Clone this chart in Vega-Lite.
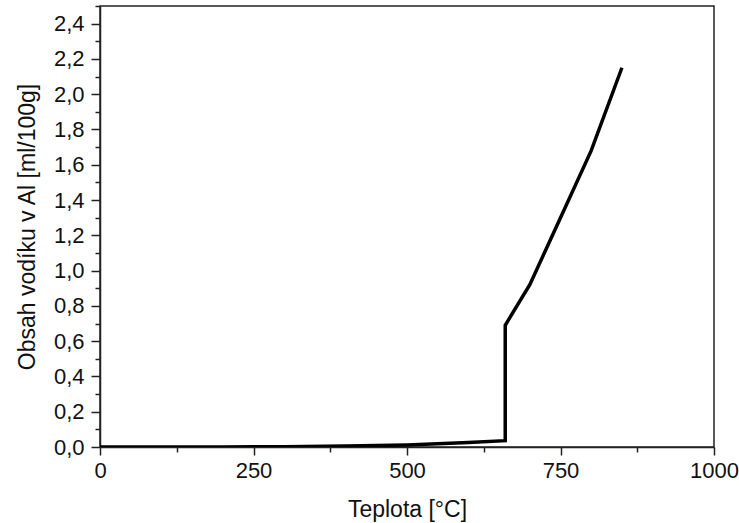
{
  "$schema": "https://vega.github.io/schema/vega-lite/v6.json",
  "width": 614,
  "height": 441,
  "autosize": "none",
  "padding": {"left": 100, "top": 6, "right": 25, "bottom": 76},
  "background": "white",
  "config": {
    "locale": {"number": {"decimal": ",", "thousands": "", "grouping": [3], "currency": ["", ""]}},
    "view": {"stroke": "#222", "strokeWidth": 1.5},
    "font": "Liberation Sans",
    "axis": {
      "labelFont": "Liberation Sans",
      "titleFont": "Liberation Sans",
      "labelFontSize": 22,
      "titleFontSize": 23,
      "titleFontWeight": "normal",
      "labelColor": "#111",
      "titleColor": "#111",
      "domainColor": "#222",
      "domainWidth": 1.5,
      "tickColor": "#222",
      "tickWidth": 1.5,
      "labelFlush": false,
      "labelOverlap": false,
      "grid": false
    }
  },
  "data": {
    "values": [
      {"T": 0, "H": 0.0},
      {"T": 200, "H": 0.0005},
      {"T": 300, "H": 0.002},
      {"T": 400, "H": 0.005},
      {"T": 500, "H": 0.012},
      {"T": 600, "H": 0.025},
      {"T": 660, "H": 0.036},
      {"T": 660, "H": 0.69},
      {"T": 700, "H": 0.92},
      {"T": 750, "H": 1.30},
      {"T": 800, "H": 1.68},
      {"T": 850, "H": 2.15}
    ]
  },
  "layer": [
    {
      "mark": {"type": "line", "color": "#000", "strokeWidth": 3.5, "strokeJoin": "miter", "clip": true},
      "encoding": {
        "x": {
          "field": "T", "type": "quantitative",
          "scale": {"domain": [0, 1000], "nice": false, "zero": false},
          "axis": {"orient": "bottom", "values": [0, 250, 500, 750, 1000], "format": "d", "tickSize": 8, "labelPadding": 5, "title": "Teplota [°C]", "titlePadding": 17}
        },
        "y": {
          "field": "H", "type": "quantitative",
          "scale": {"domain": [0, 2.5], "nice": false},
          "axis": {"orient": "left", "values": [0, 0.2, 0.4, 0.6, 0.8, 1.0, 1.2, 1.4, 1.6, 1.8, 2.0, 2.2, 2.4], "format": ".1f", "tickSize": 9, "labelPadding": 7, "title": "Obsah vodíku v Al [ml/100g]", "titlePadding": 14}
        },
        "order": {"value": 0}
      }
    },
    {
      "mark": {"type": "point", "opacity": 0},
      "encoding": {
        "x": {
          "field": "T", "type": "quantitative",
          "axis": {"orient": "bottom", "values": [125, 375, 625, 875], "labels": false, "tickSize": 5, "title": null, "domain": false}
        },
        "y": {
          "field": "H", "type": "quantitative",
          "axis": {"orient": "left", "values": [0.1, 0.3, 0.5, 0.7, 0.9, 1.1, 1.3, 1.5, 1.7, 1.9, 2.1, 2.3, 2.5], "labels": false, "tickSize": 5, "title": null, "domain": false}
        }
      }
    }
  ],
  "resolve": {"axis": {"x": "independent", "y": "independent"}}
}
